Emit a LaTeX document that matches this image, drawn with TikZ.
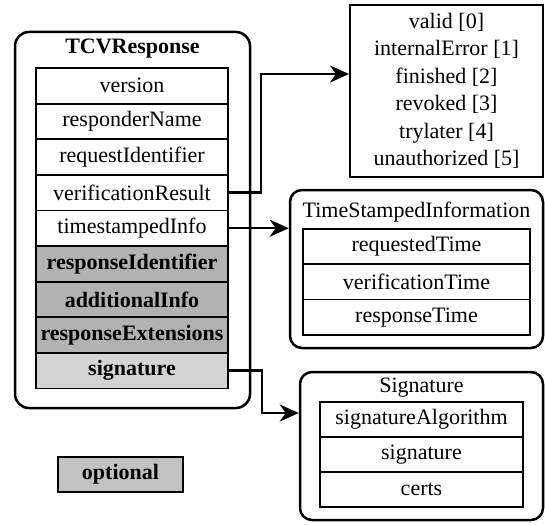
\documentclass[tikz,border=0pt]{standalone}
\usepackage{fontspec}
\setmainfont{Liberation Serif}
\usetikzlibrary{arrows.meta, positioning}

\begin{document}
\begin{tikzpicture}[
        x=1pt, y=-1pt,
        font=\rmfamily\fontsize{22}{27.5}\selectfont,
        group/.style={rectangle, draw=black, line width=2.5pt, rounded corners=14pt},
        field/.style={rectangle, draw=black, line width=1.8pt, fill=white, inner sep=0pt, outer sep=0pt, minimum height=35.6pt},
        opt/.style={field, fill=black!30, font=\rmfamily\fontsize{22}{27.5}\selectfont\bfseries},
        enum/.style={rectangle, draw=black, line width=2pt, align=center, minimum width=193pt, minimum height=172pt},
        arrow/.style={-{Stealth[length=19pt, width=17pt, inset=6pt]}, line width=2.4pt, color=black}
    ]
    \useasboundingbox (0,0) rectangle (545,524);

    % TCVResponse structure
    \node[group, minimum width=235pt, minimum height=376pt] (tcv) at (132.5,220) {};
    \node[font=\rmfamily\fontsize{22}{27.5}\selectfont\bfseries] (tcvtitle) at (132.5,49) {TCVResponse};
    \node[field, minimum width=192pt] (version) at (132,85.8) {version};
    \node[field, minimum width=192pt] (respname) [below=0pt of version] {responderName};
    \node[field, minimum width=192pt] (reqid) [below=0pt of respname] {requestIdentifier};
    \node[field, minimum width=192pt] (vres) [below=0pt of reqid] {verificationResult};
    \node[field, minimum width=192pt] (tsinfo) [below=0pt of vres] {timestampedInfo};
    \node[opt, minimum width=192pt] (respid) [below=0pt of tsinfo] {responseIdentifier};
    \node[opt, minimum width=192pt] (addinfo) [below=0pt of respid] {additionalInfo};
    \node[opt, minimum width=192pt] (respext) [below=0pt of addinfo] {responseExtensions};
    \node[opt, minimum width=192pt, fill=black!17] (sigfield) [below=0pt of respext] {signature};

    % legend
    \node[opt, minimum width=125pt, minimum height=35pt, fill=black!24] (legend) at (120.5,474.5) {optional};

    % verification result values
    \node[enum] (result) at (446.5,91) {valid [0]\\ internalError [1]\\ finished [2]\\ revoked [3]\\ trylater [4]\\ unauthorized [5]};

    % TimeStampedInformation
    \node[group, rounded corners=12pt, minimum width=253pt, minimum height=158pt] (tsbox) at (416.5,269) {};
    \node (tstitle) at (416.5,212) {TimeStampedInformation};
    \node[field, minimum width=227pt, minimum height=35.3pt] (reqtime) at (416.5,246.6) {requestedTime};
    \node[field, minimum width=227pt, minimum height=35.3pt] (vertime) [below=0pt of reqtime] {verificationTime};
    \node[field, minimum width=227pt, minimum height=35.3pt] (resptime) [below=0pt of vertime] {responseTime};

    % Signature
    \node[group, rounded corners=12pt, minimum width=243pt, minimum height=148pt] (sigbox) at (421.5,446) {};
    \node (sigtitle) at (421.5,388) {Signature};
    \node[field, minimum width=203pt, minimum height=35pt] (sigalg) at (421.5,419.5) {signatureAlgorithm};
    \node[field, minimum width=203pt, minimum height=35pt] (sigval) [below=0pt of sigalg] {signature};
    \node[field, minimum width=203pt, minimum height=35pt] (certs) [below=0pt of sigval] {certs};

    % Connections
    \draw[arrow] (vres.east) -- ++(33,0) |- ([yshift=17pt]result.west);
    \draw[arrow] (tsinfo.east) -- (tsinfo.east -| tsbox.west);
    \draw[arrow] (sigfield.east) -- ++(34,0) |- ([yshift=33pt]sigbox.west);

\end{tikzpicture}
\end{document}
